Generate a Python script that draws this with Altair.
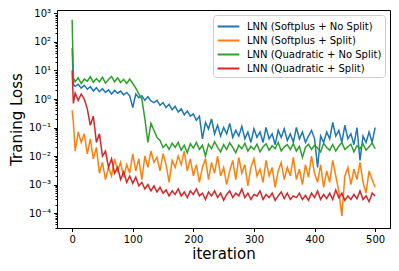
import altair as alt
import pandas as pd

iterations = [0, 2] + list(range(5, 505, 5))

series_names = [
    "LNN (Softplus + No Split)",
    "LNN (Softplus + Split)",
    "LNN (Quadratic + No Split)",
    "LNN (Quadratic + Split)",
]
colors = ["#1f77b4", "#ff7f0e", "#2ca02c", "#d62728"]

softplus_nosplit = [
    60, 3.2,
    2.8, 3.3, 2.4, 3.0, 2.2, 2.7, 1.9, 2.5, 1.8, 2.3,
    1.7, 2.1, 1.5, 2.0, 1.6, 1.9, 1.4, 1.7, 1.3, 0.5,
    1.5, 1.1, 1.3, 0.9, 1.2, 0.85, 0.75, 0.9, 0.6, 0.75,
    0.5, 0.65, 0.42, 0.55, 0.35, 0.45, 0.28, 0.38, 0.25, 0.3,
    0.18, 0.25, 0.04, 0.15, 0.09, 0.2, 0.06, 0.12, 0.05, 0.1,
    0.06, 0.14, 0.045, 0.08, 0.05, 0.11, 0.04, 0.07, 0.03, 0.09,
    0.045, 0.07, 0.03, 0.1, 0.04, 0.06, 0.025, 0.08, 0.045, 0.09,
    0.035, 0.06, 0.03, 0.1, 0.04, 0.07, 0.03, 0.05, 0.08, 0.04,
    0.004, 0.05, 0.03, 0.07, 0.04, 0.15, 0.05, 0.08, 0.03, 0.12,
    0.04, 0.06, 0.025, 0.1, 0.007, 0.05, 0.03, 0.07, 0.03, 0.1,
]

softplus_split = [
    0.4, 0.15,
    0.015, 0.07, 0.03, 0.06, 0.012, 0.04, 0.008, 0.02, 0.0025, 0.006,
    0.0015, 0.004, 0.002, 0.008, 0.003, 0.006, 0.0018, 0.005, 0.0025, 0.012,
    0.003, 0.008, 0.0015, 0.01, 0.004, 0.015, 0.006, 0.009, 0.003, 0.012,
    0.005, 0.0012, 0.007, 0.004, 0.01, 0.005, 0.015, 0.003, 0.008, 0.002,
    0.005, 0.0012, 0.004, 0.008, 0.0015, 0.006, 0.0025, 0.01, 0.002, 0.004,
    0.001, 0.003, 0.007, 0.0015, 0.009, 0.0025, 0.005, 0.0009, 0.004, 0.008,
    0.002, 0.0035, 0.0012, 0.007, 0.002, 0.004, 0.0008, 0.003, 0.006, 0.0015,
    0.004, 0.002, 0.009, 0.0015, 0.0035, 0.001, 0.005, 0.0018, 0.01, 0.0025,
    0.0012, 0.005, 0.0008, 0.003, 0.0012, 0.007, 0.002, 0.0006, 0.00008, 0.002,
    0.004, 0.001, 0.0035, 0.0015, 0.006, 0.0012, 0.0005, 0.003, 0.0015, 0.0008,
]

quadratic_nosplit = [
    600, 5.5,
    4.0, 5.5, 3.5, 5.0, 4.2, 6.0, 3.8, 5.2, 4.0, 5.8,
    3.6, 4.8, 6.2, 4.0, 5.5, 3.8, 4.9, 3.5, 5.0, 3.5,
    2.4, 1.5, 1.0, 0.2, 0.03, 0.14, 0.08, 0.045, 0.035, 0.02,
    0.026, 0.017, 0.028, 0.02, 0.03, 0.016, 0.024, 0.013, 0.027, 0.019,
    0.03, 0.017, 0.024, 0.01, 0.026, 0.018, 0.032, 0.02, 0.014, 0.025,
    0.017, 0.029, 0.02, 0.013, 0.024, 0.018, 0.028, 0.015, 0.022, 0.017,
    0.026, 0.014, 0.021, 0.027, 0.016, 0.023, 0.018, 0.03, 0.015, 0.021,
    0.025, 0.017, 0.027, 0.015, 0.022, 0.009, 0.02, 0.026, 0.017, 0.024,
    0.019, 0.014, 0.028, 0.02, 0.016, 0.025, 0.015, 0.022, 0.03, 0.017,
    0.021, 0.026, 0.014, 0.023, 0.018, 0.027, 0.016, 0.021, 0.029, 0.018,
]

quadratic_split = [
    10, 0.7,
    1.6, 0.9, 1.5, 1.0, 0.45, 0.12, 0.25, 0.03, 0.06, 0.01,
    0.015, 0.004, 0.008, 0.0025, 0.004, 0.0015, 0.0028, 0.0012, 0.002, 0.0011,
    0.0018, 0.0009, 0.0012, 0.0007, 0.001, 0.0006, 0.0009, 0.00055, 0.0008, 0.0005,
    0.00065, 0.0004, 0.0006, 0.00045, 0.0007, 0.0004, 0.00055, 0.00035, 0.0006, 0.00045,
    0.0007, 0.0004, 0.0005, 0.0003, 0.00055, 0.0004, 0.0006, 0.00035, 0.0005, 0.00028,
    0.00045, 0.0006, 0.00035, 0.0005, 0.0004, 0.0007, 0.00035, 0.0005, 0.0003, 0.00045,
    0.0004, 0.0006, 0.0003, 0.00045, 0.00035, 0.0005, 0.00028, 0.0004, 0.00055, 0.00032,
    0.0005, 0.0003, 0.0004, 0.00035, 0.0005, 0.0003, 0.00042, 0.00028, 0.0005, 0.00035,
    0.0006, 0.0003, 0.00045, 0.00032, 0.0005, 0.0003, 0.00065, 0.00035, 0.0005, 0.00028,
    0.0004, 0.0003, 0.00045, 0.00032, 0.0006, 0.0003, 0.0004, 0.00025, 0.0005, 0.0004,
]

x_ticks = [0, 100, 200, 300, 400, 500]
y_major = [1e-4, 1e-3, 1e-2, 1e-1, 1, 10, 100, 1000]
y_minor = [k * 10.0 ** n for n in range(-5, 3) for k in range(2, 10) if 3e-5 <= k * 10.0 ** n <= 1300]

all_series = [softplus_nosplit, softplus_split, quadratic_nosplit, quadratic_split]
rows = []
for name, vals in zip(series_names, all_series):
    assert len(vals) == len(iterations), (name, len(vals))
    for it, v in zip(iterations, vals):
        rows.append({"iteration": it, "loss": v, "series": name})
df = pd.DataFrame(rows)

FONT = "DejaVu Sans"

x_enc = alt.X(
    "iteration:Q",
    scale=alt.Scale(domain=[-25, 524.5], nice=False, zero=False),
    axis=alt.Axis(
        values=x_ticks, format="d", title="iteration", titleFontSize=15,
        titleFontWeight="normal", titleFont=FONT, labelFont=FONT, labelFontSize=10,
        tickSize=3.5, labelPadding=3, titleY=30, titleBaseline="alphabetic",
        grid=False, domainColor="black", tickColor="black", labelColor="black",
        titleColor="black",
    ),
)

label_expr = (
    "datum.value >= 500 ? '10³' : datum.value >= 50 ? '10²' : datum.value >= 5 ? '10¹' : "
    "datum.value >= 0.5 ? '10⁰' : datum.value >= 0.05 ? '10⁻¹' : datum.value >= 0.005 ? '10⁻²' : "
    "datum.value >= 0.0005 ? '10⁻³' : '10⁻⁴'"
)

y_scale = alt.Scale(type="log", domain=[3e-5, 1320], nice=False)

y_enc = alt.Y(
    "loss:Q",
    scale=y_scale,
    axis=alt.Axis(
        values=y_major, labelExpr=label_expr, title="Traning Loss", titleFontSize=15,
        titleFontWeight="normal", titleFont=FONT, labelFont=FONT, labelFontSize=10,
        tickSize=3.5, labelPadding=3, titleX=-41, titleY=109, titleAngle=270,
        titleAlign="center", titleBaseline="middle", grid=False, domainColor="black",
        tickColor="black", labelColor="black", titleColor="black",
    ),
)

lines = alt.Chart(df).mark_line(strokeWidth=1.5, clip=True).encode(
    x=x_enc,
    y=y_enc,
    color=alt.Color(
        "series:N",
        scale=alt.Scale(domain=series_names, range=colors),
        legend=alt.Legend(
            title=None, orient="top-right", offset=5, padding=3,
            strokeColor="#cccccc", fillColor="rgba(255,255,255,0.8)", cornerRadius=3,
            labelFont=FONT, labelFontSize=10, labelColor="black",
            symbolType="M-1.45,0H1.45", symbolStrokeWidth=2, symbolSize=225,
            symbolOffset=4, labelOffset=10, rowPadding=0, labelLimit=300,
        ),
    ),
)

minor = alt.Chart(df).mark_line(opacity=0).encode(
    x=alt.X("iteration:Q"),
    y=alt.Y(
        "loss:Q",
        scale=y_scale,
        axis=alt.Axis(
            values=y_minor, labels=False, title=None, tickSize=2, domain=False,
            grid=False, orient="left", tickColor="black",
        ),
    ),
)

chart = (
    alt.layer(lines, minor)
    .resolve_axis(y="independent")
    .properties(
        width=333, height=218,
        padding={"left": 49, "top": 2, "right": 1, "bottom": 35},
        autosize=alt.AutoSizeParams(type="none"),
    )
    .configure_view(stroke="black", strokeWidth=1)
)

chart.save("out.html", embed_options={"renderer": "svg", "actions": False})
